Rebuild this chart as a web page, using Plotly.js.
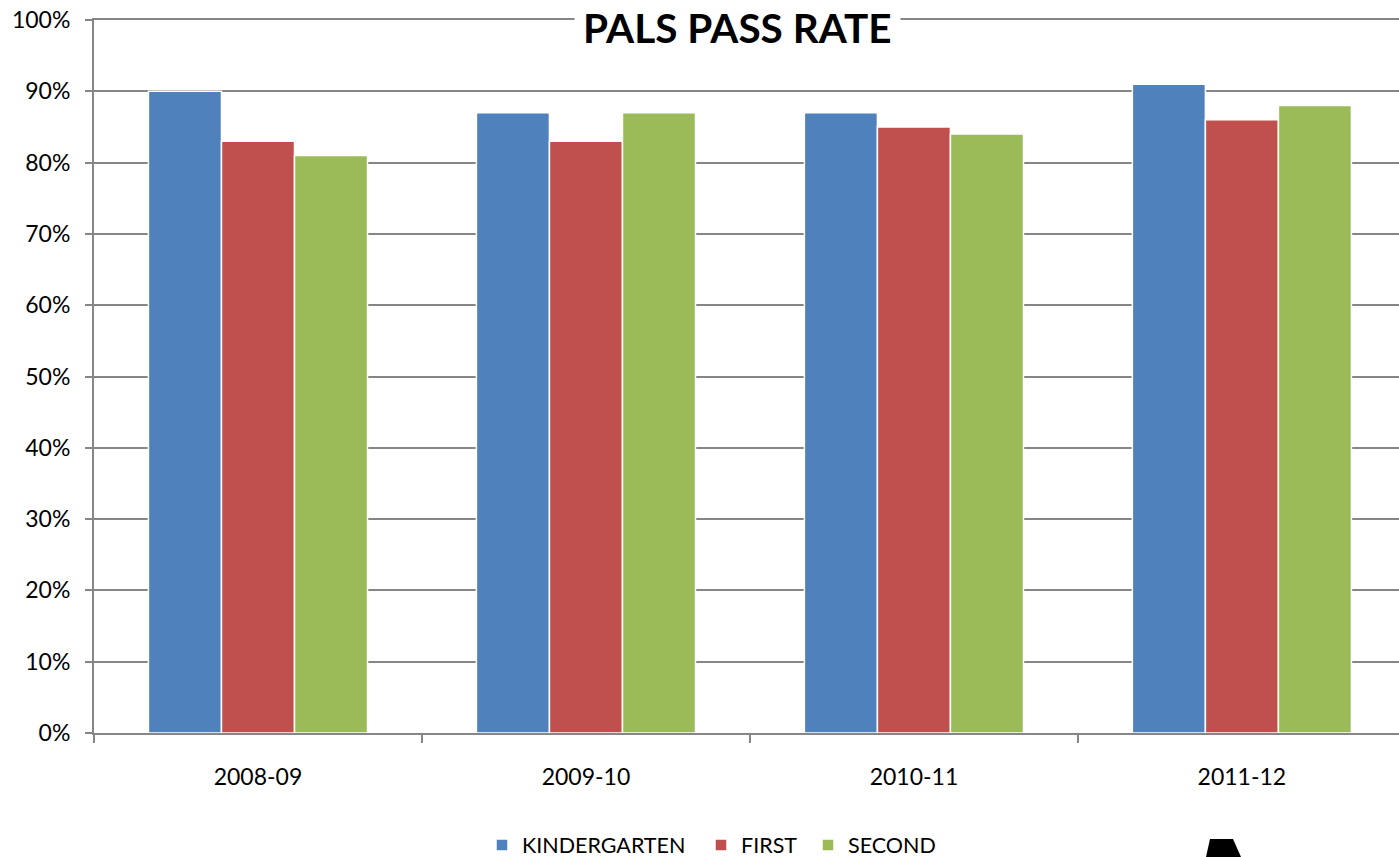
<!DOCTYPE html>
<html>
<head>
<meta charset="utf-8">
<script src="https://cdn.plot.ly/plotly-3.0.1.min.js"></script>
<style>html,body{margin:0;padding:0;background:#fff;}#chart{width:1399px;height:857px;}</style>
</head>
<body>
<div id="chart"></div>
<script>
const years = ["2008-09", "2009-10", "2010-11", "2011-12"];
const kindergarten = [0.90, 0.87, 0.87, 0.91];
const first = [0.83, 0.83, 0.85, 0.86];
const second = [0.81, 0.87, 0.84, 0.88];
const seriesNames = ["KINDERGARTEN", "FIRST", "SECOND"];
const colors = ["#4F81BD", "#C0504D", "#9BBB59"];

const FONT = "Lato, 'Open Sans', sans-serif";
const allSeries = [kindergarten, first, second];
const legendIds = ["legend", "legend2", "legend3"];

const traces = allSeries.map((vals, i) => ({
  type: "bar",
  x: years,
  y: vals,
  name: seriesNames[i],
  legend: legendIds[i],
  marker: {color: colors[i], line: {color: "#ffffff", width: 1.5}},
  hoverinfo: "x+y+name"
}));

const W = 1305, H = 713;
const legendX = [482, 701, 808];
function lg(px) {
  return {
    orientation: "h", x: (px - 94) / W, xanchor: "left", y: (733 - 845) / H, yanchor: "middle",
    font: {family: FONT, size: 21.5, color: "#000"}, bgcolor: "rgba(0,0,0,0)",
    itemwidth: 30, tracegroupgap: 0
  };
}

const layout = {
  width: 1399, height: 857,
  margin: {l: 94, r: 0, t: 20, b: 124, pad: 0, autoexpand: false},
  paper_bgcolor: "#fff", plot_bgcolor: "#fff",
  font: {family: FONT, size: 23, color: "#000"},
  barmode: "group", bargap: 0.332, bargroupgap: 0,
  showlegend: true,
  legend: lg(legendX[0]),
  legend2: lg(legendX[1]),
  legend3: lg(legendX[2]),
  xaxis: {
    type: "category", range: [-0.5, 3.479],
    showline: true, linecolor: "#868686", linewidth: 2, mirror: true,
    ticks: "outside", tickson: "boundaries", ticklen: 8, tickcolor: "#868686", tickwidth: 2,
    ticklabelstandoff: 22,
    tickfont: {family: FONT, size: 23, color: "#000"},
    showgrid: false, zeroline: false, fixedrange: true
  },
  yaxis: {
    range: [0, 1], dtick: 0.1, tick0: 0, tickformat: ".0%",
    showline: true, linecolor: "#868686", linewidth: 2,
    ticks: "outside", ticklen: 7, tickcolor: "#868686", tickwidth: 2,
    ticklabelstandoff: 10,
    showgrid: true, gridcolor: "#868686", gridwidth: 1.5,
    zeroline: false,
    tickfont: {family: FONT, size: 23, color: "#000"}, fixedrange: true
  },
  annotations: [{
    text: "<b>PALS PASS RATE</b>", xref: "paper", yref: "paper",
    x: (737 - 94) / W, y: 1, xanchor: "center", yanchor: "middle", yshift: -7,
    showarrow: false, bgcolor: "#ffffff", borderpad: 8,
    font: {family: FONT, size: 40.5, color: "#000"}
  }],
  shapes: [{
    type: "path", xref: "paper", yref: "paper", layer: "above",
    path: "M " + (1210 - 94) / W + " " + (733 - 839) / H +
          " L " + (1233 - 94) / W + " " + (733 - 839) / H +
          " L " + (1241 - 94) / W + " " + (733 - 857) / H +
          " L " + (1206 - 94) / W + " " + (733 - 857) / H + " Z",
    fillcolor: "#000", line: {width: 0}
  }]
};

Plotly.newPlot("chart", traces, layout, {displayModeBar: false, responsive: false});
</script>
</body>
</html>
